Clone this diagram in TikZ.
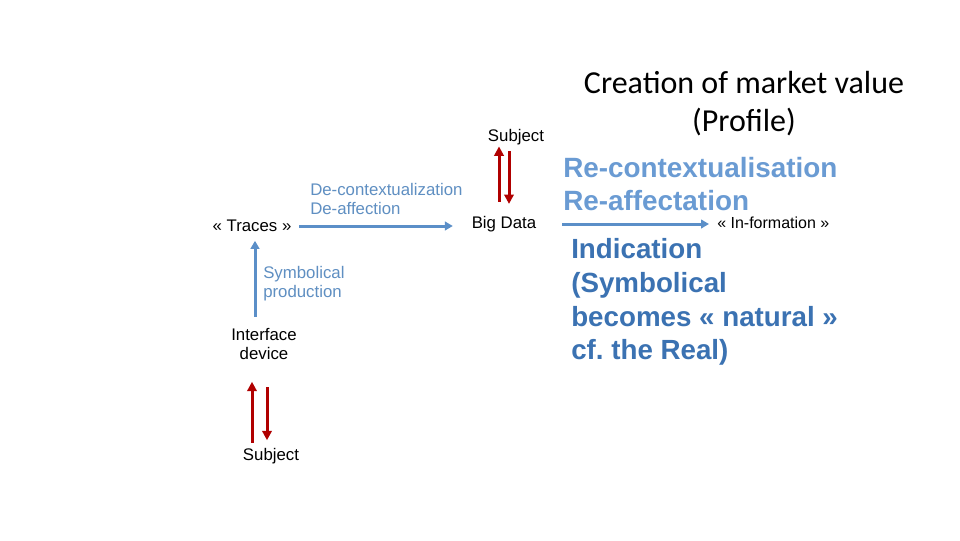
\documentclass[tikz,border=0pt]{standalone}
\usepackage{fontspec}
\setmainfont{Liberation Sans}
\newfontfamily\calibri{Carlito}
\usetikzlibrary{arrows.meta}
\definecolor{arrblue}{HTML}{5B8FC8}
\definecolor{txtblue}{HTML}{5F8FC2}
\definecolor{reblue}{HTML}{6A9BD3}
\definecolor{indblue}{HTML}{3B72B2}
\definecolor{arrred}{HTML}{B00000}
\begin{document}
\frenchspacing
\begin{tikzpicture}[x=0.75pt,y=-0.75pt,
  lbl/.style={inner sep=0pt, font=\fontsize{12.6}{14.25}\selectfont},
  blab/.style={lbl, text=txtblue, align=left},
  small/.style={inner sep=0pt, font=\fontsize{12}{13}\selectfont},
  title/.style={inner sep=0pt, font=\calibri\fontsize{24}{28.5}\selectfont, align=center},
  bigre/.style={inner sep=0pt, font=\bfseries\fontsize{20.9}{24.75}\selectfont, text=reblue, align=left},
  bigind/.style={inner sep=0pt, font=\bfseries\fontsize{20.8}{25.25}\selectfont, text=indblue, align=left},
  barrow/.style={draw=arrblue, line width=2.25pt, -{Triangle[length=6pt,width=6.5pt]}},
  rarrow/.style={draw=arrred, line width=2.25pt, -{Triangle[length=7pt,width=7pt]}}]
\useasboundingbox (0,0) rectangle (960,540);
\fill[white] (0,0) rectangle (960,540);
\node[lbl] (subj1) at (516,137) {Subject};
\node[lbl] (bigdata) at (504,224) {Big Data};
\node[lbl] (traces) at (252,226) {« Traces »};
\node[blab, anchor=west] (decon) at (310,198.5) {De-contextualization\\De-affection};
\node[blab, anchor=west] (symb) at (263,283.5) {Symbolical\\production};
\node[lbl, align=center] (iface) at (264,343.5) {Interface\\device};
\node[lbl] (subj2) at (271,456) {Subject};
\node[title] (creation) at (744,103.5) {Creation of market value\\(Profile)};
\node[bigre, anchor=west] (recon) at (563,184.5) {Re-contextualisation\\Re-affectation};
\node[small, anchor=west] (inform) at (717,223) {« In-formation »};
\node[bigind, anchor=west] (indic) at (571,302) {Indication\\(Symbolical\\becomes « natural »\\cf. the Real)};
\coordinate (infstart) at (562,224);
% arrows
\draw[barrow, shorten <=5.6pt, shorten >=14pt] (traces.east) -- (traces.east -| bigdata.west);
\draw[barrow, shorten >=6pt] (infstart) -- (infstart -| inform.west);
\draw[barrow, shorten <=8pt, shorten >=6.5pt] ([xshift=-6.75pt]iface.north) -- ([xshift=-6.75pt]iface.north |- traces.south);
\draw[rarrow, shorten <=10.75pt, shorten >=1pt] ([xshift=-3.75pt]bigdata.north) -- ([xshift=-3.75pt]bigdata.north |- subj1.south);
\draw[rarrow, shorten <=4.75pt, shorten >=9pt] ([xshift=3.75pt]bigdata.north |- subj1.south) -- ([xshift=3.75pt]bigdata.north);
\draw[rarrow, shorten <=4pt, shorten >=16.75pt] ([xshift=-9pt]iface.south |- subj2.north) -- ([xshift=-9pt]iface.south);
\draw[rarrow, shorten <=20.75pt, shorten >=5.75pt] ([xshift=2.25pt]iface.south) -- ([xshift=2.25pt]iface.south |- subj2.north);
\end{tikzpicture}
\end{document}
